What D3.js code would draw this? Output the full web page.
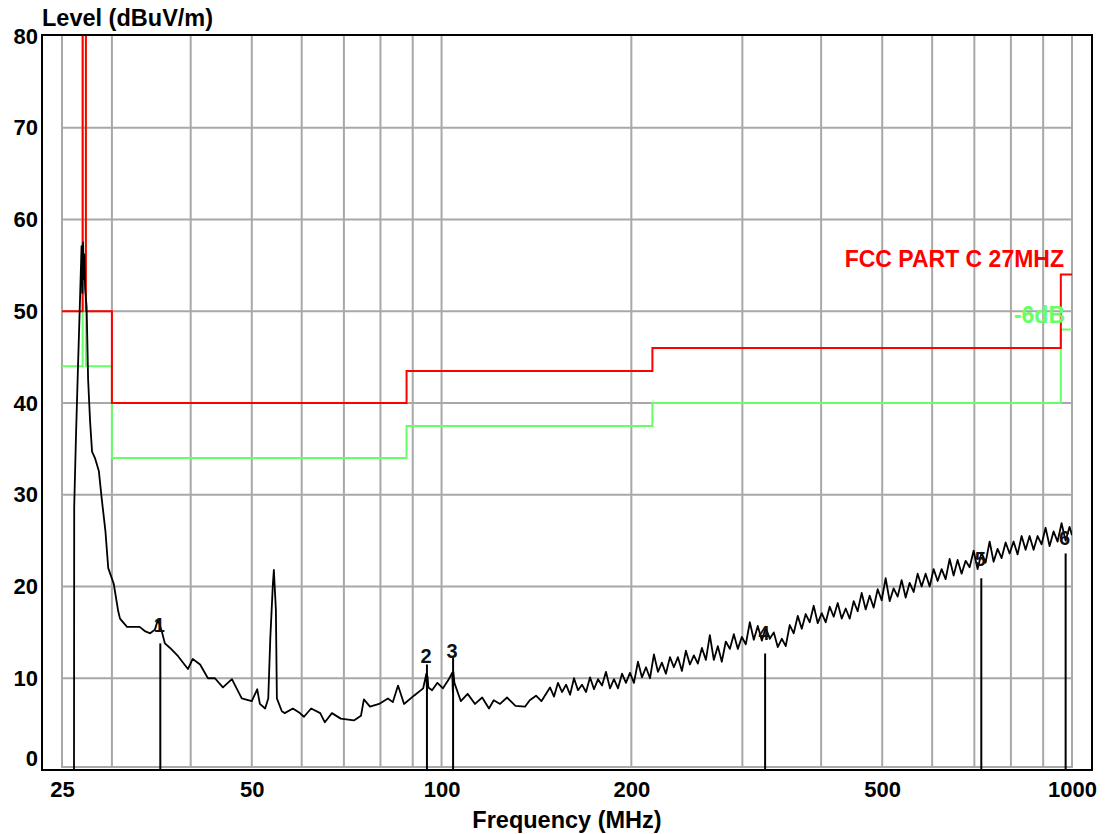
<!DOCTYPE html>
<html>
<head>
<meta charset="utf-8">
<script src="https://cdn.jsdelivr.net/npm/d3@7"></script>
<style>
  body { margin: 0; background: #fff; }
  svg text { font-family: "Liberation Sans", Arial, sans-serif; font-weight: bold; }
</style>
</head>
<body>
<div id="chart"></div>
<script>
// Scan data (MHz, dBuV/m)
const scanFreq = [
  26.12, 26.14, 26.31, 26.5, 26.7, 26.85, 26.93, 27.0, 27.07, 27.13, 27.2, 27.27, 27.35, 27.42, 27.5,
  27.7, 27.9, 28.2, 28.6, 28.9, 29.3, 29.6, 30.2, 30.7, 30.9, 31.7, 33.2, 33.9, 34.5, 35.1,
  35.5, 36.0, 36.4, 37.1, 38.2, 39.6, 40.3, 41.4, 42.6, 43.7, 45.0, 46.5, 48.2, 50.0, 51.0,
  51.5, 52.5, 53.1, 53.5, 54.0, 54.2, 54.6, 54.8, 55.8, 56.4, 58.1, 59.6, 60.5, 62.1, 64.2,
  65.3, 67.0, 69.2, 72.6, 74.5, 75.3, 77.0, 79.6, 82.2, 83.7, 85.3, 87.2, 90.4, 93.5, 94.6,
  94.8, 95.0, 95.3, 96.6, 98.5, 100.5, 102.5, 104.0, 104.2, 104.4, 104.8, 107.3, 110, 113, 116,
  118.9, 121, 123.8, 127, 131, 135.6, 138, 141.2, 144,
  148.6, 150.8, 153.0, 155.3, 157.6, 159.9, 162.2, 164.6, 167.0, 169.5, 172.0, 174.5, 177.1, 179.7, 182.3,
  185.0, 187.7, 190.5, 193.3, 196.1, 199.0, 201.9, 204.9, 207.9, 211.0, 214.1, 217.2, 220.4, 223.6, 226.9,
  230.3, 233.6, 237.1, 240.6, 244.1, 247.7, 251.3, 255.0, 258.8, 262.6, 266.4, 270.3, 274.3, 278.3, 282.4,
  286.6, 290.8, 295.1, 299.4, 303.8, 308.3, 312.8, 317.4, 322.1, 326.8, 331.6, 336.5, 341.4, 346.5, 351.5,
  356.7, 361.9, 367.3, 372.7, 378.1, 383.7, 389.3, 395.1, 400.9, 406.8, 412.7, 418.8, 425.0, 431.2, 437.6,
  444.0, 450.5, 457.1, 463.9, 470.7, 477.6, 484.6, 491.8, 499.0, 506.3, 513.8, 521.3, 529.0, 536.8, 544.7,
  552.7, 560.8, 569.1, 577.4, 585.9, 594.6, 603.3, 612.2, 621.2, 630.3, 639.6, 649.0, 658.5, 668.2, 678.1,
  688.0, 698.2, 708.4, 718.8, 729.4, 740.2, 751.0, 762.1, 773.3, 784.7, 796.2, 807.9, 819.8, 831.9, 844.1,
  856.5, 869.1, 881.9, 894.9, 908.0, 921.4, 934.9, 948.7, 962.6, 976.8, 991.1, 1000
];
const scanLevel = [
  0, 28.7, 36.4, 43.8, 51.3, 57.1, 52.0, 57.5, 53.5, 56.2, 52.5, 51.6, 50.5, 47.0, 42.6,
  38.0, 34.7, 34.0, 32.6, 29.6, 26.0, 22.0, 20.3, 17.3, 16.5, 15.6, 15.6, 15.1, 14.9, 15.3,
  16.4, 15.1, 13.8, 13.3, 12.4, 11.0, 12.1, 11.5, 10.0, 10.0, 9.0, 9.9, 7.8, 7.5, 8.8,
  7.2, 6.7, 7.8, 14.4, 20.2, 21.8, 17.5, 7.8, 6.4, 6.2, 6.7, 6.2, 5.8, 6.7, 6.2,
  5.2, 6.2, 5.6, 5.4, 5.9, 7.7, 6.9, 7.2, 7.8, 7.4, 9.2, 7.2, 8.1, 8.9, 10.5,
  8.7, 10.2, 9.0, 8.7, 9.5, 8.9, 9.8, 10.6, 8.5, 10.7, 9.5, 7.5, 8.3, 7.2, 7.9,
  6.7, 7.6, 7.2, 7.9, 7.0, 6.9, 7.6, 8.1, 7.5,
  9.0, 8.0, 9.5, 8.5, 9.3, 8.2, 10.0, 8.7, 9.3, 8.5, 10.1, 8.8, 9.9, 9.2, 10.7,
  8.9, 9.9, 8.9, 10.5, 9.5, 10.6, 9.5, 11.8, 10.1, 11.2, 10.0, 12.6, 10.7, 11.7, 10.5,
  12.3, 11.2, 12.3, 10.8, 13.0, 11.5, 12.5, 11.6, 13.3, 12.0, 14.7, 12.0, 13.5, 11.8, 14.0,
  13.2, 14.8, 13.2, 14.5, 13.7, 16.1, 14.2, 15.7, 14.1, 15.5, 14.3, 15.0, 13.4, 14.3, 13.5,
  15.8, 14.9, 16.8, 15.4, 17.0, 16.1, 17.9, 16.0, 17.1, 16.1, 17.8, 16.7, 18.2, 16.5, 17.6,
  16.5, 18.4, 17.3, 19.3, 17.5, 19.0, 17.7, 19.7, 18.5, 20.9, 18.4, 19.8, 18.9, 20.7, 18.8,
  20.4, 19.4, 21.4, 20.0, 21.4, 20.0, 21.9, 20.6, 21.9, 20.8, 23.0, 21.2, 22.9, 21.4, 22.8,
  22.1, 23.9, 21.9, 23.7, 22.6, 24.9, 22.7, 24.1, 23.1, 24.8, 23.6, 24.9, 23.5, 25.5, 24.0,
  25.5, 24.0, 25.5, 24.6, 26.4, 24.4, 26.0, 24.9, 26.9, 25.0, 26.5, 25.6
];

// FCC Part C 27MHz limit and the -6dB line (segment start freq, level)
const limitFreq = [25, 26.96, 27.28, 30, 88, 216, 960, 1000];
const limitLevel = [50, 100, 50, 40, 43.5, 46, 54, 54];
const marginLevel = [44, 94, 44, 34, 37.5, 40, 48, 48];

// Marker readings
const markerName = ["1", "2", "3", "4", "5", "6"];
const markerFreq = [35.8, 94.8, 104.3, 326, 718, 977];
const markerLevel = [15.8, 12.5, 13.0, 14.9, 23.0, 25.3];
const markerLine = [13.8, 11.5, 12.2, 12.7, 20.9, 23.6];

// Axis / grid values
const xTicks = [25, 50, 100, 200, 500, 1000];
const yTicks = [0, 10, 20, 30, 40, 50, 60, 70, 80];
const xGrid = [30, 40, 50, 60, 70, 80, 90, 100, 200, 300, 400, 500, 600, 700, 800, 900];
const yGrid = [10, 20, 30, 40, 50, 60, 70];

const width = 1112, height = 834;
const plot = { left: 62, right: 1072, top: 35, bottom: 770 };

const x = d3.scaleLog().domain([25, 1000]).range([plot.left, plot.right]);
const y = d3.scaleLinear().domain([0, 80]).range([plot.bottom, 36]);

const svg = d3.select("#chart")
  .append("svg")
  .attr("width", width)
  .attr("height", height);

svg.append("defs").append("clipPath")
  .attr("id", "plotclip")
  .append("rect")
  .attr("x", plot.left)
  .attr("y", plot.top)
  .attr("width", plot.right - plot.left)
  .attr("height", plot.bottom - plot.top);

// Grey grid
const grid = svg.append("g").attr("stroke", "#a8a8a8").attr("stroke-width", 2);
grid.selectAll(".vx")
  .data(xGrid)
  .join("line")
  .attr("x1", d => x(d)).attr("x2", d => x(d))
  .attr("y1", plot.top).attr("y2", 767);
grid.selectAll(".hy")
  .data(yGrid)
  .join("line")
  .attr("x1", plot.left).attr("x2", plot.right)
  .attr("y1", d => y(d)).attr("y2", d => y(d));
grid.append("rect")
  .attr("x", plot.left).attr("y", plot.top)
  .attr("width", plot.right - plot.left).attr("height", 767 - plot.top)
  .attr("fill", "none");

// Limit lines
const stepLine = d3.line()
  .x(d => x(d[0]))
  .y(d => y(d[1]))
  .curve(d3.curveStepAfter);

const lines = svg.append("g").attr("clip-path", "url(#plotclip)");

lines.append("path")
  .attr("d", stepLine(limitFreq.map((f, i) => [f, marginLevel[i]])))
  .attr("fill", "none")
  .attr("stroke", "#66ff66")
  .attr("stroke-width", 2);

lines.append("path")
  .attr("d", stepLine(limitFreq.map((f, i) => [f, limitLevel[i]])))
  .attr("fill", "none")
  .attr("stroke", "#ff0000")
  .attr("stroke-width", 2);

// Scan trace
const traceLine = d3.line()
  .x(d => x(d[0]))
  .y(d => y(d[1]));

lines.append("path")
  .attr("d", traceLine(scanFreq.map((f, i) => [f, scanLevel[i]])))
  .attr("fill", "none")
  .attr("stroke", "#000")
  .attr("stroke-width", 1.8)
  .attr("stroke-linejoin", "round");

// Markers
const markers = svg.append("g");
markers.selectAll("line")
  .data(markerFreq)
  .join("line")
  .attr("x1", d => x(d)).attr("x2", d => x(d))
  .attr("y1", y(0))
  .attr("y2", (d, i) => y(markerLine[i]))
  .attr("stroke", "#000")
  .attr("stroke-width", 2);

markers.selectAll("text")
  .data(markerFreq)
  .join("text")
  .attr("x", d => x(d) - 1)
  .attr("y", (d, i) => y(markerLevel[i]))
  .attr("dy", "0.36em")
  .attr("text-anchor", "middle")
  .style("font-size", "20px")
  .attr("fill", "#111")
  .text((d, i) => markerName[i]);

// Black frame
svg.append("rect")
  .attr("x", 42).attr("y", plot.top)
  .attr("width", 1092 - 42).attr("height", plot.bottom - plot.top)
  .attr("fill", "none")
  .attr("stroke", "#000")
  .attr("stroke-width", 2);

// Y axis labels
const yAxis = svg.append("g")
  .attr("transform", "translate(42,0)")
  .call(d3.axisLeft(y).tickValues(yTicks).tickSize(0).tickPadding(4));
yAxis.select(".domain").remove();
yAxis.selectAll("text")
  .style("font-size", "22px")
  .attr("fill", "#000")
  .attr("y", d => d === 0 ? -12 : 0);
yAxis.attr("font-family", null).attr("font-size", null);

// X axis labels
const xAxis = svg.append("g")
  .attr("transform", `translate(0,${plot.bottom})`)
  .call(d3.axisBottom(x).tickValues(xTicks).tickFormat(d => d).tickSize(0).tickPadding(11));
xAxis.select(".domain").remove();
xAxis.selectAll("text")
  .style("font-size", "22px")
  .attr("fill", "#000");
xAxis.attr("font-family", null).attr("font-size", null);

// Titles
svg.append("text")
  .attr("x", 42)
  .attr("y", 26)
  .style("font-size", "23.5px")
  .text("Level (dBuV/m)");

svg.append("text")
  .attr("x", 567)
  .attr("y", 828)
  .attr("text-anchor", "middle")
  .style("font-size", "23.5px")
  .text("Frequency (MHz)");

// Legend labels
svg.append("text")
  .attr("x", 1064)
  .attr("y", 267)
  .attr("text-anchor", "end")
  .attr("fill", "#ff0000")
  .style("font-size", "23px")
  .text("FCC PART C 27MHZ");

svg.append("text")
  .attr("x", 1065)
  .attr("y", 323)
  .attr("text-anchor", "end")
  .attr("fill", "#66ff66")
  .style("font-size", "23px")
  .text("-6dB");
</script>
</body>
</html>
